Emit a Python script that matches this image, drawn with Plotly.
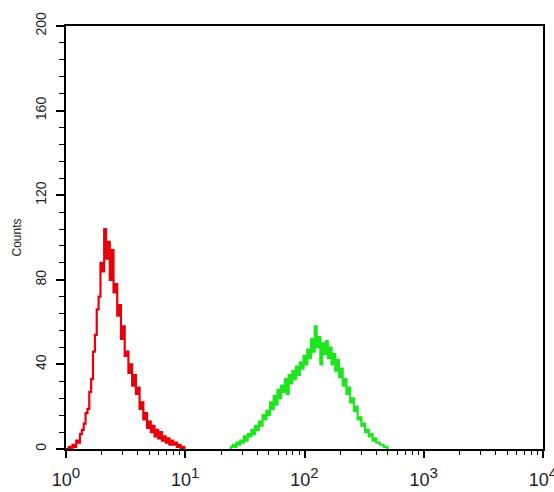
import plotly.graph_objects as go

# Channel resolution: 64 channels per decade, 4 decades (log scale 10^0..10^4)
CH_PER_DECADE = 64

red_start_channel = 0
red_counts = [0, 0, 1, 0, 2, 1, 4, 3, 7, 9, 12, 17, 19, 27, 33, 46, 54, 66, 72, 88,
              84, 104, 90, 98, 80, 94, 74, 78, 63, 68, 52, 58, 44, 46, 36, 40, 30, 35,
              26, 29, 19, 22, 14, 17, 10, 13, 8, 11, 6, 9, 5, 8, 4, 6, 3, 5, 2, 4, 2,
              3, 1, 2, 0, 1, 0]

green_start_channel = 88
green_counts = [0, 1, 2, 1, 3, 2, 4, 3, 6, 4, 7, 6, 9, 7, 11, 9, 13, 11, 16, 14, 18,
                16, 22, 19, 25, 21, 28, 24, 30, 27, 33, 26, 35, 31, 37, 33, 39, 35, 41,
                38, 44, 40, 47, 43, 52, 46, 58, 48, 53, 40, 50, 45, 51, 43, 48, 40, 45,
                37, 42, 34, 38, 30, 33, 26, 29, 22, 24, 18, 20, 14, 15, 11, 12, 8, 9,
                6, 7, 4, 5, 3, 3, 2, 2, 1, 1, 0]

x_tickvals = [1, 10, 100, 1000, 10000]
x_exponents = ["0", "1", "2", "3", "4"]
y_tickvals = [0, 40, 80, 120, 160, 200]

x_ticktext = ["10<sup><span style='font-size:15px'>%s</span></sup>" % e for e in x_exponents]


def channels_to_x(start, n):
    return [10 ** ((start + i) / CH_PER_DECADE) for i in range(n)]


fig = go.Figure()
fig.add_trace(go.Scatter(
    x=channels_to_x(red_start_channel, len(red_counts)), y=red_counts,
    mode="lines", line=dict(color="#e8000a", width=2.2, shape="hvh"),
    hoverinfo="skip", showlegend=False))
fig.add_trace(go.Scatter(
    x=channels_to_x(green_start_channel, len(green_counts)), y=green_counts,
    mode="lines", line=dict(color="#1ee61e", width=2.2, shape="hvh"),
    hoverinfo="skip", showlegend=False))

minor_x = [m * 10 ** d for d in range(4) for m in range(2, 10)]

fig.update_layout(
    width=554, height=492,
    margin=dict(l=66, r=11, t=26, b=43, autoexpand=False),
    paper_bgcolor="white", plot_bgcolor="white",
    font=dict(family="Liberation Sans, Arial, sans-serif", color="#222"),
)
fig.update_xaxes(
    type="log", range=[0, 4], automargin=False,
    showline=True, linecolor="black", linewidth=2, mirror=True,
    showgrid=False, zeroline=False,
    ticks="outside", ticklen=7, tickwidth=1.5, tickcolor="black",
    tickvals=x_tickvals, ticktext=x_ticktext, ticklabeloverflow="allow",
    ticklabelstandoff=6,
    tickfont=dict(size=18, color="#222"),
    minor=dict(tickvals=minor_x, ticks="outside", ticklen=4, tickwidth=1.3,
               tickcolor="black", showgrid=False),
)
fig.update_yaxes(
    range=[0, 200], automargin=False,
    showline=True, linecolor="black", linewidth=2, mirror=True,
    showgrid=False, zeroline=False,
    ticks="outside", ticklen=8, tickwidth=1.5, tickcolor="black",
    tickvals=y_tickvals, tickangle=-90, ticklabelstandoff=4,
    tickfont=dict(size=14, color="#222"),
    minor=dict(dtick=8, ticks="outside", ticklen=5, tickwidth=1.3,
               tickcolor="black", showgrid=False),
    title=dict(text="Counts", font=dict(size=12, color="#222"), standoff=9),
)

fig.write_html("out.html", config={"displayModeBar": False},
               post_script="document.body.style.margin='0';document.body.style.overflow='hidden';")
